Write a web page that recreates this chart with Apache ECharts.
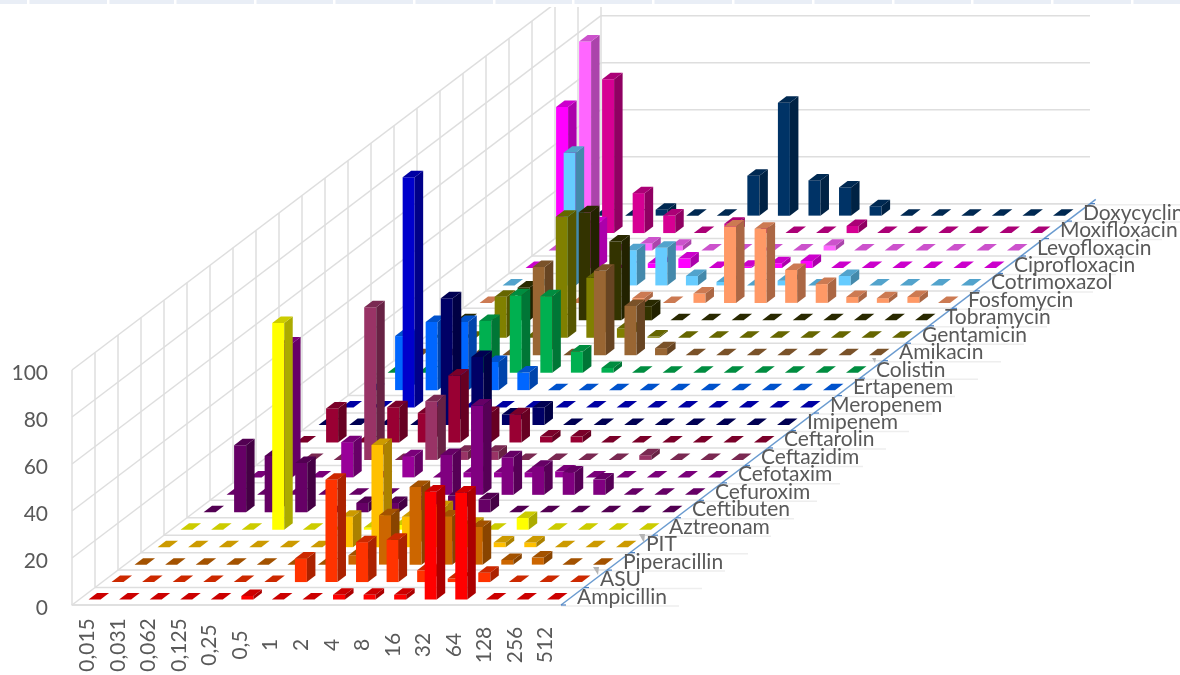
<!DOCTYPE html>
<html><head><meta charset="utf-8">
<style>html,body{margin:0;padding:0;background:#fff}#c{width:1180px;height:675px}</style>
<script src="https://cdn.jsdelivr.net/npm/echarts@6/dist/echarts.min.js"></script>
</head><body><div id="c"></div>
<script>
const doses = ['0,015','0,031','0,062','0,125','0,25','0,5','1','2','4','8','16','32','64','128','256','512'];
const yTicks = [0,20,40,60,80,100];
const drugs = ['Ampicillin','ASU','Piperacillin','PIT','Aztreonam','Ceftibuten','Cefuroxim','Cefotaxim','Ceftazidim','Ceftarolin','Imipenem','Meropenem','Ertapenem','Colistin','Amikacin','Gentamicin','Tobramycin','Fosfomycin','Cotrimoxazol','Ciprofloxacin','Levofloxacin','Moxifloxacin','Doxycyclin'];
const colors = ['#ff0000','#ff3300','#cc6600','#ffc000','#ffff00','#660066','#800080','#990099','#993366','#990033','#000066','#0000cc','#0066ff','#00b050','#996633','#808000','#333300','#ff9966','#66ccff','#ff00ff','#ff66ff','#d60093','#003366'];

const ampicillin   = [0,0,0,0,0,1.5,0,0,2,2,2,46,45.5,0,0,0];
const asu          = [0,0,0,0,0,0,10,43.5,17,18,5,1.5,4,0,0,0];
const piperacillin = [0,0,0,0,0,0,0,4,21,33,20.5,16,2,3,0,0];
const pit          = [0,0,0,0,0,0,13,43.5,13,17,10,2,2,0,0,0];
const aztreonam    = [0,0,0,88,0,0,1,2,2,1,0,5,0,0,0,0];
const ceftibuten   = [0,28.5,24,21,0,4,4,6,7,5.5,0,0,0,0,0,0];
const cefuroxim    = [0,0,0,0,0,0,1,17,38,16,12,9.5,6.5,0,0,0];
const cefotaxim    = [0,57,0,15,0,9,0,2,2,2,2.5,0,0,0,0,0];
const ceftazidim   = [0,0,0,65,0,25,3.5,3.5,0,0,0,0,2,0,0,0];
const ceftarolin   = [0,14.5,0,15,12.5,28.5,12.5,12,2.5,2.5,0,0,0,0,0,0];
const imipenem     = [0,0,0,0,54,29,4.5,7.5,0,0,0,0,0,0,0,0];
const meropenem    = [0,0,98,1,0,0,0,0,0,0,0,0,0,0,0,0];
const ertapenem    = [0,23,29,29,12,7.5,0,0,0,0,0,0,0,0,0,0];
const colistin     = [0,0,0,22,33,32.5,9,2,0,0,0,0,0,0,0,0];
const amikacin     = [0,0,0,0,37.5,0,36,21,3,0,0,0,0,0,0,0];
const gentamicin   = [0,0,17.5,0,51.5,25.5,4,0.5,0,0,0,0,0,0,0,0];
const tobramycin   = [0,0,14,0,46,33.5,6,0,0,0,0,0,0,0,0,0];
const fosfomycin   = [0,0,0,0,0,2,0,4,32.5,31.5,14,8,2.5,2,2.5,0];
const cotrimoxazol = [0,0,56.5,0,15,16,4,1.5,0,2,0,4,0,0,0,0];
const ciprofloxacin= [0,68.5,19,0,2,4,0,0.5,2,3,0,0,0,0,0,0];
const levofloxacin = [0,89,0,3,2,0,0,0,0,2,0,0,0,0,0,0];
const moxifloxacin = [0,65.5,17,7.5,0,4,0,0,0,3,0,0,0,0,0,0];
const doxycyclin   = [0,0,2.5,0,0,17,48,15,12,4,0,0,0,0,0,0];
const rows = [ampicillin,asu,piperacillin,pit,aztreonam,ceftibuten,cefuroxim,cefotaxim,ceftazidim,ceftarolin,imipenem,meropenem,ertapenem,colistin,amikacin,gentamicin,tobramycin,fosfomycin,cotrimoxazol,ciprofloxacin,levofloxacin,moxifloxacin,doxycyclin];

// oblique depth step per row, and bar footprint
const ROW_DX = 23, ROW_DY = 17.45, BAR_W = 12, BAR_DX = 8.5, BAR_DY = 6.5;
const WALL = '#dedede';
const stripGaps = [27,107,174,254,333,413,493,572,652,732,812,892,971,1051,1131];
const markers = [[639,534,645,534,644,543],[593,567,599,567,598,575],[872,358,876,358,875,363]];

function shade(hex, f){
  const n = parseInt(hex.slice(1),16);
  const c = [n>>16, (n>>8)&255, n&255].map(v=>Math.round(v*f));
  return 'rgb('+c.join(',')+')';
}
function poly(points, fill){ return {type:'polygon', shape:{points}, style:{fill, stroke:null}}; }
function seg(x1,y1,x2,y2,color,w){ return {type:'line', shape:{x1,y1,x2,y2}, style:{stroke:color, lineWidth:w||1.5, fill:null}}; }

function barRenderer(r){
  return function(params, api){
    const i = api.value(0), v = api.value(1);
    const base = api.coord([i,0]), top = api.coord([i,v]);
    const cx = base[0] + (r+0.5)*ROW_DX, cy = base[1] - (r+0.5)*ROW_DY;
    const x0 = cx - BAR_W/2 - BAR_DX/2, x1 = x0 + BAR_W;
    const yb = cy + BAR_DY/2, yt = yb - (base[1]-top[1]);
    const col = colors[r], kids = [];
    if (v > 0) {
      kids.push(poly([[x0,yb],[x1,yb],[x1,yt],[x0,yt]], col));
      kids.push(poly([[x1,yb],[x1+BAR_DX,yb-BAR_DY],[x1+BAR_DX,yt-BAR_DY],[x1,yt]], shade(col,0.67)));
    }
    kids.push(poly([[x0,yt],[x1,yt],[x1+BAR_DX,yt-BAR_DY],[x0+BAR_DX,yt-BAR_DY]], shade(col,0.8)));
    return {type:'group', children:kids};
  };
}
function wallRenderer(params, api){
  const cs = params.coordSys, L = cs.x, R = cs.x+cs.width, B = cs.y+cs.height, kids = [], N = drugs.length;
  const backX = L+N*ROW_DX, backY = B-N*ROW_DY;
  yTicks.forEach(t=>{
    const h = B - api.coord([0,t])[1];
    kids.push(seg(L,B-h,backX,backY-h,WALL));
    kids.push(seg(backX,backY-h,backX+cs.width,backY-h,WALL));
  });
  const H = B - api.coord([0,100])[1];
  for(let k=0;k<=N;k++){
    const x=L+k*ROW_DX, y=B-k*ROW_DY;
    kids.push(seg(x,y,x,y-H,WALL));
    kids.push(seg(x,y,x+cs.width,y,WALL));
    kids.push(seg(R+k*ROW_DX,y+1,R+k*ROW_DX+118,y+1,'#eeeeee'));
  }
  return {type:'group', children:kids};
}
function edgeRenderer(params, api){
  const cs = params.coordSys, R = cs.x+cs.width, B = cs.y+cs.height, kids = [], N = drugs.length;
  kids.push(seg(R,B,R+(N+0.25)*ROW_DX,B-(N+0.25)*ROW_DY,'#6a9bd0',1.5));
  for(let k=0;k<=N;k++){
    const x=R+k*ROW_DX, y=B-k*ROW_DY;
    kids.push(seg(x,y,x+5,y,'#4a7fbf',1.2));
  }
  return {type:'group', children:kids};
}
function labelRenderer(params, api){
  const cs = params.coordSys, r = api.value(0);
  return {type:'text', style:{
    x: cs.x+cs.width+(r+0.5)*ROW_DX+4.5, y: cs.y+cs.height-(r+0.5)*ROW_DY+0.5,
    text: drugs[r], fill:'#595959', font:'21px Lato', align:'left', verticalAlign:'middle'}};
}

const series = [
  {type:'custom', renderItem:wallRenderer, data:[[0,0]], z:1, silent:true},
  {type:'custom', renderItem:edgeRenderer, data:[[0,0]], z:38, silent:true},
  {type:'custom', renderItem:labelRenderer, data:drugs.map((d,r)=>[r,0]), encode:{x:0,y:1}, z:40, silent:true}
];
rows.forEach((vals,r)=>{
  series.push({type:'custom', name:drugs[r], renderItem:barRenderer(r), z:2+(rows.length-1-r), silent:true,
    data:vals.map((v,i)=>[i,v]), encode:{x:0,y:1}});
});

const graphics = [
  {type:'rect', shape:{x:0,y:0,width:1180,height:7}, style:{fill:'#fff'}, z:50},
  {type:'rect', shape:{x:0,y:0,width:1180,height:4}, style:{fill:'#e9eef6'}, z:51}
];
stripGaps.forEach(x=>graphics.push({type:'rect', shape:{x:x,y:0,width:2.5,height:4}, style:{fill:'#fff'}, z:52}));
markers.forEach(m=>graphics.push({type:'polygon', shape:{points:[[m[0],m[1]],[m[2],m[3]],[m[4],m[5]]]}, style:{fill:'#b5b5b5'}, z:39}));

const chart = echarts.init(document.getElementById('c'), null, {renderer:'canvas'});
chart.setOption({
  animation:false,
  backgroundColor:'#fff',
  grid:{left:72, right:619, top:370, bottom:70, containLabel:false},
  xAxis:{type:'category', data:doses, boundaryGap:true,
    axisLine:{lineStyle:{color:WALL,width:1.5}}, axisTick:{show:false}, splitLine:{show:false},
    axisLabel:{interval:0, rotate:90, align:'center', verticalAlign:'middle', margin:40, color:'#595959', fontFamily:'Lato', fontSize:21}},
  yAxis:{type:'value', min:0, max:100, interval:20,
    axisLine:{show:false}, axisTick:{show:false}, splitLine:{show:false},
    axisLabel:{margin:24, formatter:'{t|{value}}',
      rich:{t:{padding:[7,0,0,0], color:'#595959', fontFamily:'Lato', fontSize:21}}}},
  graphic:{elements:graphics},
  series
});
</script></body></html>
